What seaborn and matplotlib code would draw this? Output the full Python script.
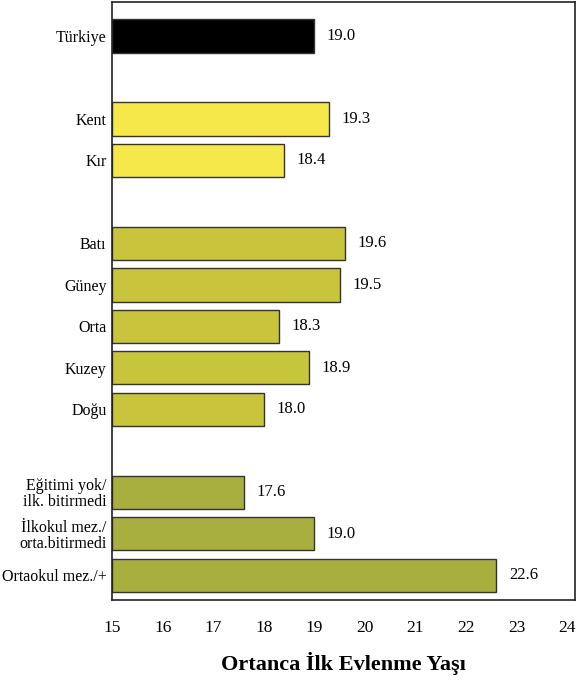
import matplotlib
matplotlib.use("Agg")
import matplotlib.pyplot as plt
import seaborn as sns
import pandas as pd

# data
categories = ["Türkiye", "Kent", "Kır", "Batı", "Güney", "Orta", "Kuzey", "Doğu",
              "Eğitimi yok/\nilk. bitirmedi", "İlkokul mez./\norta.bitirmedi", "Ortaokul mez./+"]
values = [19.0, 19.3, 18.4, 19.6, 19.5, 18.3, 18.9, 18.0, 17.6, 19.0, 22.6]
groups = ["total", "residence", "residence", "region", "region", "region", "region", "region",
          "education", "education", "education"]

# empty slots between groups
order = ["Türkiye", " ", "Kent", "Kır", "  ", "Batı", "Güney", "Orta", "Kuzey", "Doğu", "   ",
         "Eğitimi yok/\nilk. bitirmedi", "İlkokul mez./\norta.bitirmedi", "Ortaokul mez./+"]

group_colors = {"total": "#000000", "residence": "#F6E84A",
                "region": "#C8C43C", "education": "#A9AF3E"}

df = pd.DataFrame({"cat": categories, "val": values, "grp": groups})
palette = {c: group_colors[g] for c, g in zip(categories, groups)}

sns.set_style("white")
plt.rcParams["font.family"] = ["Liberation Serif", "DejaVu Serif"]
plt.rcParams["text.color"] = "black"
plt.rcParams["xtick.color"] = "black"
plt.rcParams["ytick.color"] = "black"
plt.rcParams["axes.labelcolor"] = "black"

fig = plt.figure(figsize=(5.78, 6.82), dpi=100)
ax = fig.add_axes([0.194, 0.12, 0.801, 0.877])

sns.barplot(data=df, x="val", y="cat", hue="cat", order=order, hue_order=categories,
            palette=palette, saturation=1, legend=False, orient="h", width=0.8,
            edgecolor="#333333", linewidth=1.0, ax=ax)

# bars should start at 15
for p in ax.patches:
    w = p.get_width()
    if w == w and w > 0:
        p.set_x(15)
        p.set_width(w - 15)

for cont in ax.containers:
    labels = []
    for p in cont:
        labels.append(f"{p.get_x() + p.get_width():.1f}")
    ax.bar_label(cont, labels=labels, padding=9, fontsize=12)

ax.set_xlim(15, 24.16)
ax.set_ylim(13.6, -0.82)
ax.set_xticks(range(15, 25))
ax.tick_params(axis="both", length=0)
ax.tick_params(axis="x", pad=14, labelsize=12.5)
ax.tick_params(axis="y", pad=4, labelsize=11.5)
for lab in ax.get_yticklabels():
    lab.set_horizontalalignment("right")
    lab.set_multialignment("right")
    lab.set_linespacing(1.0)

ax.set_ylabel("")
ax.set_xlabel("Ortanca İlk Evlenme Yaşı", fontsize=16, fontweight="bold", labelpad=12)

for s in ax.spines.values():
    s.set_visible(True)
    s.set_color("#222222")
    s.set_linewidth(1.2)

fig.savefig("out.png", dpi=100)
